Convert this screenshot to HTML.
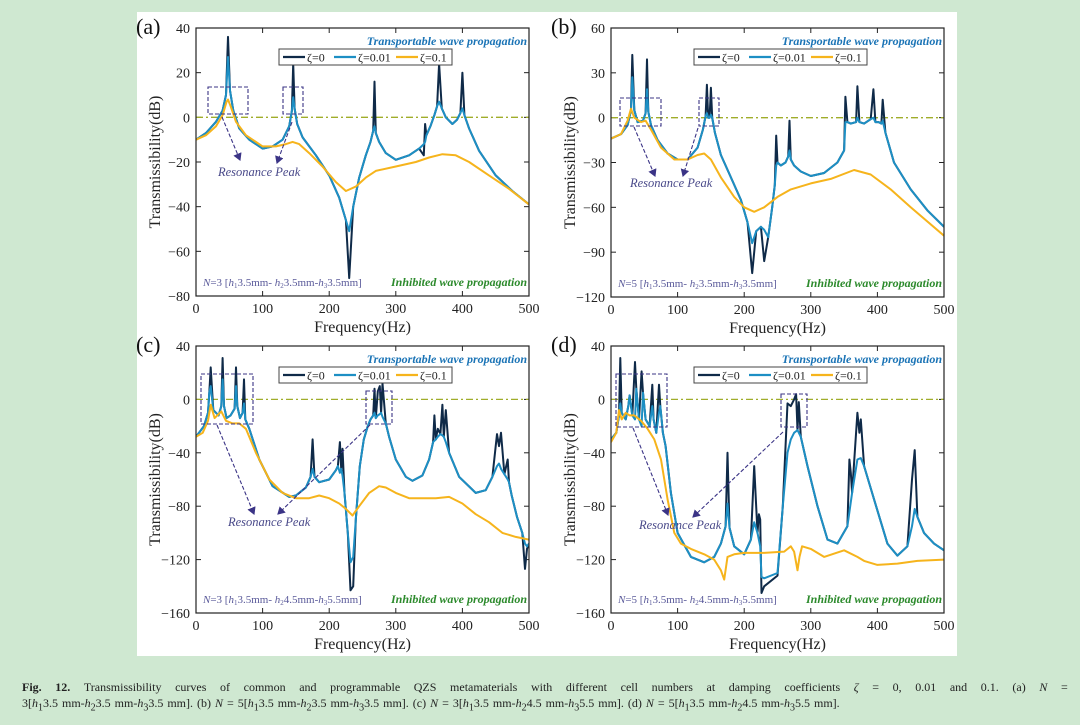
<!DOCTYPE html>
<html><head><meta charset="utf-8">
<style>
body{margin:0;width:1080px;height:725px;background:#cfe8d1;overflow:hidden;font-family:"Liberation Serif",serif;}
#fig{position:absolute;left:137px;top:12px;width:820px;height:644px;background:#fff;}
#cap{position:absolute;left:22px;top:679px;width:1046px;font-size:12px;line-height:16px;color:#222;}
#cap .l1{text-align:justify;text-align-last:justify;white-space:nowrap;display:flex;justify-content:space-between;}
#cap .l2{white-space:nowrap;word-spacing:1px;}
svg text{font-family:"Liberation Serif",serif;}
</style></head>
<body>
<div id="fig"></div>
<svg id="chart" width="1080" height="725" style="position:absolute;left:0;top:0"></svg>
<div id="cap">
<div class="l1"><b>Fig.</b><b>12.</b><span>Transmissibility</span><span>curves</span><span>of</span><span>common</span><span>and</span><span>programmable</span><span>QZS</span><span>metamaterials</span><span>with</span><span>different</span><span>cell</span><span>numbers</span><span>at</span><span>damping</span><span>coefficients</span><span><i>ζ</i></span><span>=</span><span>0,</span><span>0.01</span><span>and</span><span>0.1.</span><span>(a)</span><span><i>N</i></span><span>=</span></div>
<div class="l2">3[<i>h</i><sub>1</sub>3.5 mm-<i>h</i><sub>2</sub>3.5 mm-<i>h</i><sub>3</sub>3.5 mm]. (b) <i>N</i> = 5[<i>h</i><sub>1</sub>3.5 mm-<i>h</i><sub>2</sub>3.5 mm-<i>h</i><sub>3</sub>3.5 mm]. (c) <i>N</i> = 3[<i>h</i><sub>1</sub>3.5 mm-<i>h</i><sub>2</sub>4.5 mm-<i>h</i><sub>3</sub>5.5 mm]. (d) <i>N</i> = 5[<i>h</i><sub>1</sub>3.5 mm-<i>h</i><sub>2</sub>4.5 mm-<i>h</i><sub>3</sub>5.5 mm].</div>
</div>
<script>
// ---- data ----
const xTicks=[0,100,200,300,400,500];
const yTicksA=[40,20,0,-20,-40,-60,-80];
const yTicksB=[60,30,0,-30,-60,-90,-120];
const yTicksC=[40,0,-40,-80,-120,-160];
const yTicksD=[40,0,-40,-80,-120,-160];

const blueFA=[0,15,30,40,45,48,51,56,65,80,100,115,130,140,144,146,148,152,160,180,200,215,225,230,236,245,255,262,266,268,270,275,285,300,320,335,342,344,346,352,358,362,365,369,375,385,392,397,400,403,410,425,450,475,500];
const blueYA=[-10,-7,-2,3,10,27,12,3,-5,-10,-14,-13,-10,-4,3,9,4,-3,-9,-17,-26,-36,-46,-51,-40,-27,-17,-11,-6,-4,-7,-11,-16,-19,-17,-14,-12,-11,-8,-4,1,5,7,4,0,-3,-1,2,4,1,-5,-15,-26,-33,-39];
const spikeFA=[48,146,230,268,342,344,365,400];
const spikeYA=[36,24,-72,16,-17,-3,24,20];
const yelFA=[0,15,30,40,46,48,52,60,75,100,120,135,145,155,170,190,210,225,240,255,270,300,330,350,370,390,410,440,470,500];
const yelYA=[-10,-8,-4,1,7,8,5,-2,-8,-13,-13,-12,-11,-12,-16,-22,-29,-33,-31,-27,-24,-22,-20,-18,-16.5,-17,-20,-26,-32,-39];

const blueFB=[0,15,25,30,32,35,40,48,52,54,56,60,70,85,100,115,130,138,142,144,146,148,150,152,156,165,180,195,205,212,218,225,230,236,242,246,248,250,255,262,266,268,270,275,285,300,320,340,350,352,355,360,368,370,373,380,390,394,397,402,406,408,412,425,450,475,500];
const blueYB=[-14,-11,-5,5,27,5,-3,-2,3,19,4,-5,-15,-24,-28,-28,-20,-8,1,3,0,0,2,0,-10,-25,-40,-55,-70,-84,-76,-73,-75,-80,-60,-45,-32,-30,-32,-30,-26,-22,-28,-32,-36,-39,-37,-30,-22,-3,-3,-4,-3,0,-3,-4,-1,0,-3,-3,-4,-2,-10,-30,-48,-62,-73];
const spikeFB=[32,54,144,150,212,230,248,268,352,370,394,408];
const spikeYB=[42,39,22,20,-104,-96,-12,-2,14,21,19,12];
const yelFB=[0,15,25,30,35,45,52,60,75,95,115,130,140,150,165,185,200,215,230,250,270,300,330,365,390,420,450,500];
const yelYB=[-14,-11,-2,6,0,-3,-2,-8,-20,-28,-28,-25,-24,-28,-40,-53,-60,-63,-60,-53,-48,-44,-41,-35,-38,-48,-60,-79];

const blueFC=[0,12,18,20,22,26,34,38,40,42,46,52,58,60,62,66,70,72,74,80,95,115,140,150,165,172,175,178,185,200,210,213,216,218,220,223,228,232,236,240,246,252,258,262,266,268,270,273,276,278,280,285,290,300,315,325,340,350,356,360,363,367,370,372,375,380,395,420,435,445,452,455,458,463,468,470,474,482,490,494,497,500];
const blueYC=[-28,-20,-10,5,10,-8,-12,-5,15,-5,-14,-12,-7,10,-5,-14,-10,-3,-15,-22,-45,-65,-73,-72,-66,-58,-52,-58,-62,-60,-53,-50,-55,-52,-57,-70,-100,-122,-118,-90,-50,-30,-20,-15,-12,-10,-14,-12,-11,-10,-13,-18,-28,-45,-58,-61,-57,-45,-32,-30,-28,-26,-27,-28,-32,-40,-58,-70,-68,-58,-50,-48,-52,-56,-60,-62,-72,-88,-100,-108,-110,-108];
const spikeFC=[22,40,60,72,175,216,220,232,236,268,273,276,280,358,363,370,375,452,455,458,468,494,497];
const spikeYC=[24,31,24,15,-30,-32,-37,-143,-140,8,6,10,12,-12,-22,-4,-8,-26,-35,-25,-45,-127,-112];
const yelFC=[0,10,18,22,28,38,45,55,65,75,90,110,130,150,170,185,200,215,225,235,245,260,275,285,300,320,340,360,380,400,420,440,460,480,500];
const yelYC=[-28,-25,-16,-4,-14,-9,-16,-18,-18,-22,-40,-60,-70,-74,-74,-72,-74,-78,-82,-87,-80,-70,-65,-66,-70,-74,-74,-74,-73,-78,-86,-92,-100,-103,-105];

const blueFD=[0,8,12,14,16,22,26,28,32,36,38,42,46,48,52,58,62,64,68,72,74,78,82,90,100,120,140,155,165,172,175,178,185,200,210,215,220,224,226,230,250,258,265,270,275,280,285,295,310,325,340,355,362,370,375,380,395,415,430,445,452,456,460,470,485,500];
const blueYD=[-30,-25,-12,-3,-10,-15,-5,3,-12,-15,8,-15,-20,5,-15,-20,-5,-15,-25,-10,-5,-25,-35,-70,-100,-118,-122,-118,-108,-95,-78,-96,-110,-116,-105,-92,-100,-110,-133,-134,-130,-80,-40,-30,-25,-23,-28,-50,-80,-105,-108,-95,-70,-45,-44,-50,-75,-108,-117,-110,-95,-82,-88,-100,-108,-113];
const spikeFD=[14,36,46,62,72,175,215,222,224,226,230,250,265,270,275,278,282,358,360,370,373,375,452,456];
const spikeYD=[31,28,21,11,11,-40,-50,-86,-90,-145,-140,-132,-3,-5,0,4,-2,-45,-55,-10,-25,-15,-60,-38];
const yelFD=[0,8,12,16,22,28,35,45,55,65,75,85,95,105,120,140,155,165,170,175,185,200,230,260,270,275,280,283,287,300,320,350,370,380,400,430,460,500];
const yelYD=[-32,-25,-8,-15,-10,-12,-12,-16,-22,-30,-45,-75,-100,-108,-112,-116,-120,-128,-135,-118,-116,-115,-115,-114,-110,-114,-128,-118,-110,-112,-118,-113,-118,-121,-124,-123,-121,-120];

const NS="http://www.w3.org/2000/svg";
const svg=document.getElementById('chart');
function mk(tag,attrs,parent){const e=document.createElementNS(NS,tag);for(const k in attrs)e.setAttribute(k,attrs[k]);(parent||svg).appendChild(e);return e;}
function txt(x,y,s,attrs,parent){const e=mk('text',Object.assign({x:x,y:y},attrs),parent);e.textContent=s;return e;}

function merge(bf,by,sf,sy){
  const m=new Map();bf.forEach((f,i)=>m.set(f,by[i]));sf.forEach((f,i)=>m.set(f,sy[i]));
  const fs=[...m.keys()].sort((a,b)=>a-b);return [fs,fs.map(f=>m.get(f))];
}

const panels=[
 {id:'a',x0:196,x1:529,y0:28,y1:296,ymax:40,ymin:-80,yt:yTicksA,bf:blueFA,by:blueYA,sf:spikeFA,sy:spikeYA,yf:yelFA,yy:yelYA,
  N:'N=3 [',h:['3.5mm- ','3.5mm-','3.5mm]'],boxes:[[208,87,248,114],[283,87,303,114]],arrows:[[222,117,240,160],[292,122,277,163]],rp:[218,176]},
 {id:'b',x0:611,x1:944,y0:28,y1:297,ymax:60,ymin:-120,yt:yTicksB,bf:blueFB,by:blueYB,sf:spikeFB,sy:spikeYB,yf:yelFB,yy:yelYB,
  N:'N=5 [',h:['3.5mm- ','3.5mm-','3.5mm]'],boxes:[[620,98,661,126],[699,98,719,126]],arrows:[[634,127,655,176],[698,128,683,176]],rp:[630,187]},
 {id:'c',x0:196,x1:529,y0:346,y1:613,ymax:40,ymin:-160,yt:yTicksC,bf:blueFC,by:blueYC,sf:spikeFC,sy:spikeYC,yf:yelFC,yy:yelYC,
  N:'N=3 [',h:['3.5mm- ','4.5mm-','5.5mm]'],boxes:[[201,374,253,424],[366,391,392,424]],arrows:[[217,425,254,514],[370,425,278,514]],rp:[228,526]},
 {id:'d',x0:611,x1:944,y0:346,y1:613,ymax:40,ymin:-160,yt:yTicksD,bf:blueFD,by:blueYD,sf:spikeFD,sy:spikeYD,yf:yelFD,yy:yelYD,
  N:'N=5 [',h:['3.5mm- ','4.5mm-','5.5mm]'],boxes:[[616,374,667,427],[781,394,807,427]],arrows:[[633,428,668,515],[783,432,693,517]],rp:[639,529]}
];

mk('defs',{}).innerHTML='<marker id="ah" markerWidth="8" markerHeight="8" refX="6" refY="4" orient="auto"><path d="M0,0 L7,4 L0,8 z" fill="#3b3486"/></marker>';

panels.forEach(p=>{
  const g=mk('g',{});
  
  
  const sx=f=>p.x0+(f/500)*(p.x1-p.x0);
  const sy=v=>p.y0+(p.ymax-v)/(p.ymax-p.ymin)*(p.y1-p.y0);
  const clip=mk('clipPath',{id:'clip'+p.id},g);
  mk('rect',{x:p.x0,y:p.y0,width:p.x1-p.x0,height:p.y1-p.y0},clip);
  xTicks.forEach(t=>{
    const X=sx(t);
    mk('line',{x1:X,y1:p.y1,x2:X,y2:p.y1-5,stroke:'#222','stroke-width':1},g);
    mk('line',{x1:X,y1:p.y0,x2:X,y2:p.y0+5,stroke:'#222','stroke-width':1},g);
    const l=txt(X,p.y1+17,String(t),{'font-size':14,'text-anchor':'middle',fill:'#222'},g);
    
    
  });
  p.yt.forEach(t=>{
    const Y=sy(t);
    mk('line',{x1:p.x0,y1:Y,x2:p.x0+5,y2:Y,stroke:'#222','stroke-width':1},g);
    mk('line',{x1:p.x1,y1:Y,x2:p.x1-5,y2:Y,stroke:'#222','stroke-width':1},g);
    const l=txt(p.x0-6,Y+5,String(t).replace('-','−'),{'font-size':14,'text-anchor':'end',fill:'#222'},g);
    
    
  });
  const z=mk('line',{x1:p.x0,y1:sy(0),x2:p.x1,y2:sy(0),stroke:'#a0ad2a','stroke-width':1.3,'stroke-dasharray':'7,3,2,3'},g);
  
  
  const cg=mk('g',{'clip-path':'url(#clip'+p.id+')'},g);
  const [df,dy]=merge(p.bf,p.by,p.sf,p.sy);
  const series=[[df,dy,'#0f2a48','series-zeta-0'],[p.bf,p.by,'#1d8fc4','series-zeta-0.01'],[p.yf,p.yy,'#f6b41c','series-zeta-0.1']];
  series.forEach(s=>{
    const pts=s[0].map((f,i)=>sx(f).toFixed(1)+','+sy(s[1][i]).toFixed(1)).join(' ');
    const pl=mk('polyline',{points:pts,fill:'none',stroke:s[2],'stroke-width':2,'stroke-linejoin':'round'},cg);
    
    
  });
  mk('rect',{x:p.x0,y:p.y0,width:p.x1-p.x0,height:p.y1-p.y0,fill:'none',stroke:'#222','stroke-width':1.2},g);
  const tt=txt(p.x1-2,p.y0+17,'Transportable wave propagation',{'font-size':12,'font-weight':'bold','font-style':'italic','text-anchor':'end',fill:'#1b74b6'},g);
  
  
  const it=txt(p.x1-2,p.y1-10,'Inhibited wave propagation',{'font-size':12,'font-weight':'bold','font-style':'italic','text-anchor':'end',fill:'#2c8a2c'},g);
  
  
  const nl=mk('text',{x:p.x0+7,y:p.y1-10,'font-size':11,fill:'#5a5a9a'},g);
  
  
  nl.innerHTML='<tspan font-style="italic">N</tspan>'+p.N.slice(1)+'<tspan font-style="italic">h</tspan><tspan font-size="7" dy="2">1</tspan><tspan dy="-2">'+p.h[0]+'</tspan><tspan font-style="italic">h</tspan><tspan font-size="7" dy="2">2</tspan><tspan dy="-2">'+p.h[1]+'</tspan><tspan font-style="italic">h</tspan><tspan font-size="7" dy="2">3</tspan><tspan dy="-2">'+p.h[2]+'</tspan>';
  const yl=txt(0,0,'Transmissibility(dB)',{'font-size':16,'text-anchor':'middle',fill:'#222',transform:'translate('+(p.x0-36)+','+((p.y0+p.y1)/2)+') rotate(-90)'},g);
  
  
  const xl=txt((p.x0+p.x1)/2,p.y1+36,'Frequency(Hz)',{'font-size':16,'text-anchor':'middle',fill:'#222'},g);
  
  
  const pl=txt(p.x0-60,p.y0+6,'('+p.id+')',{'font-size':22,fill:'#111'},g);
  
  
  const lx=p.x0+83, ly=p.y0+21;
  const lg=mk('g',{},g);
  
  
  mk('rect',{x:lx,y:ly,width:173,height:16,fill:'#fff',stroke:'#444','stroke-width':1},lg);
  const le=[['#0f2a48','ζ=0',0,22],['#1d8fc4','ζ=0.01',51,22],['#f6b41c','ζ=0.1',113,22]];
  le.forEach(e=>{
    mk('line',{x1:lx+4+e[2],y1:ly+8,x2:lx+4+e[2]+e[3],y2:ly+8,stroke:e[0],'stroke-width':2.2},lg);
    const t=txt(lx+28+e[2],ly+12.5,e[1],{'font-size':12,fill:'#222'},lg);
    
    
  });
  p.boxes.forEach(b=>{
    const r=mk('rect',{x:b[0],y:b[1],width:b[2]-b[0],height:b[3]-b[1],fill:'none',stroke:'#3b3486','stroke-width':1.1,'stroke-dasharray':'4,2'},g);
    
    
  });
  p.arrows.forEach(a=>{
    const l=mk('line',{x1:a[0],y1:a[1],x2:a[2],y2:a[3],stroke:'#3b3486','stroke-width':1.1,'stroke-dasharray':'4,2','marker-end':'url(#ah)'},g);
    
    
  });
  const rp=txt(p.rp[0],p.rp[1],'Resonance Peak',{'font-size':12.5,'font-style':'italic',fill:'#4a4a8a'},g);
  
  
});
</script>
</body></html>
